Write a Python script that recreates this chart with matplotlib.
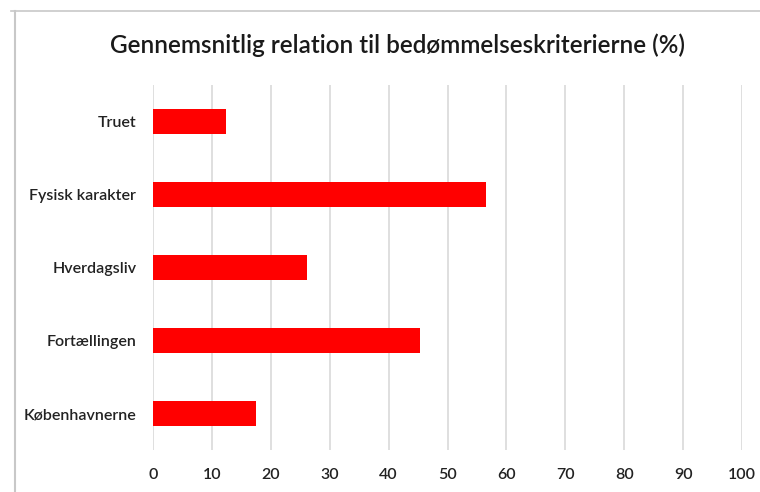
import matplotlib
matplotlib.use("Agg")
import matplotlib.pyplot as plt
from matplotlib.lines import Line2D

categories = ["Truet", "Fysisk karakter", "Hverdagsliv", "Fortællingen", "Københavnerne"]
values = [12.4, 56.6, 26.1, 45.3, 17.5]
xticks = [0, 10, 20, 30, 40, 50, 60, 70, 80, 90, 100]
title = "Gennemsnitlig relation til bedømmelseskriterierne (%)"

plt.rcParams['font.family'] = ['Lato', 'DejaVu Sans']

W, H = 760, 492
fig = plt.figure(figsize=(W/100, H/100), dpi=100)
ax = fig.add_axes([153/W, 1-450/H, (742-153)/W, (450-85)/H])

ypos = list(range(len(categories)))
ax.barh(ypos, values, height=0.34, color="#ff0000", zorder=3)
ax.set_ylim(len(categories)-0.5, -0.5)
ax.set_xlim(0, 100)
ax.set_yticks(ypos)
ax.set_yticklabels(categories, fontsize=11.5, color="#222222", fontweight='semibold')
ax.set_xticks(xticks)
ax.set_xticklabels([str(t) for t in xticks], fontsize=11.5, color="#222222", fontweight='semibold')
ax.tick_params(length=0)
ax.tick_params(axis='y', pad=12)
ax.tick_params(axis='x', pad=13)
ax.grid(axis='x', color="#dcdcdc", linewidth=1.3, zorder=0)
for s in ax.spines.values():
    s.set_visible(False)

fig.text(398/W, 1-45/H, title, ha='center', va='center', fontsize=17.5, color="#1a1a1a", fontweight='semibold')

# outer frame (cropped chart border)
fig.add_artist(Line2D([11/W, 1], [1-11/H, 1-11/H], color="#c8c8c8", linewidth=1.2, transform=fig.transFigure))
fig.add_artist(Line2D([15/W, 15/W], [1-11/H, 0], color="#c8c8c8", linewidth=1.5, transform=fig.transFigure))

fig.savefig("out.png", dpi=100)
